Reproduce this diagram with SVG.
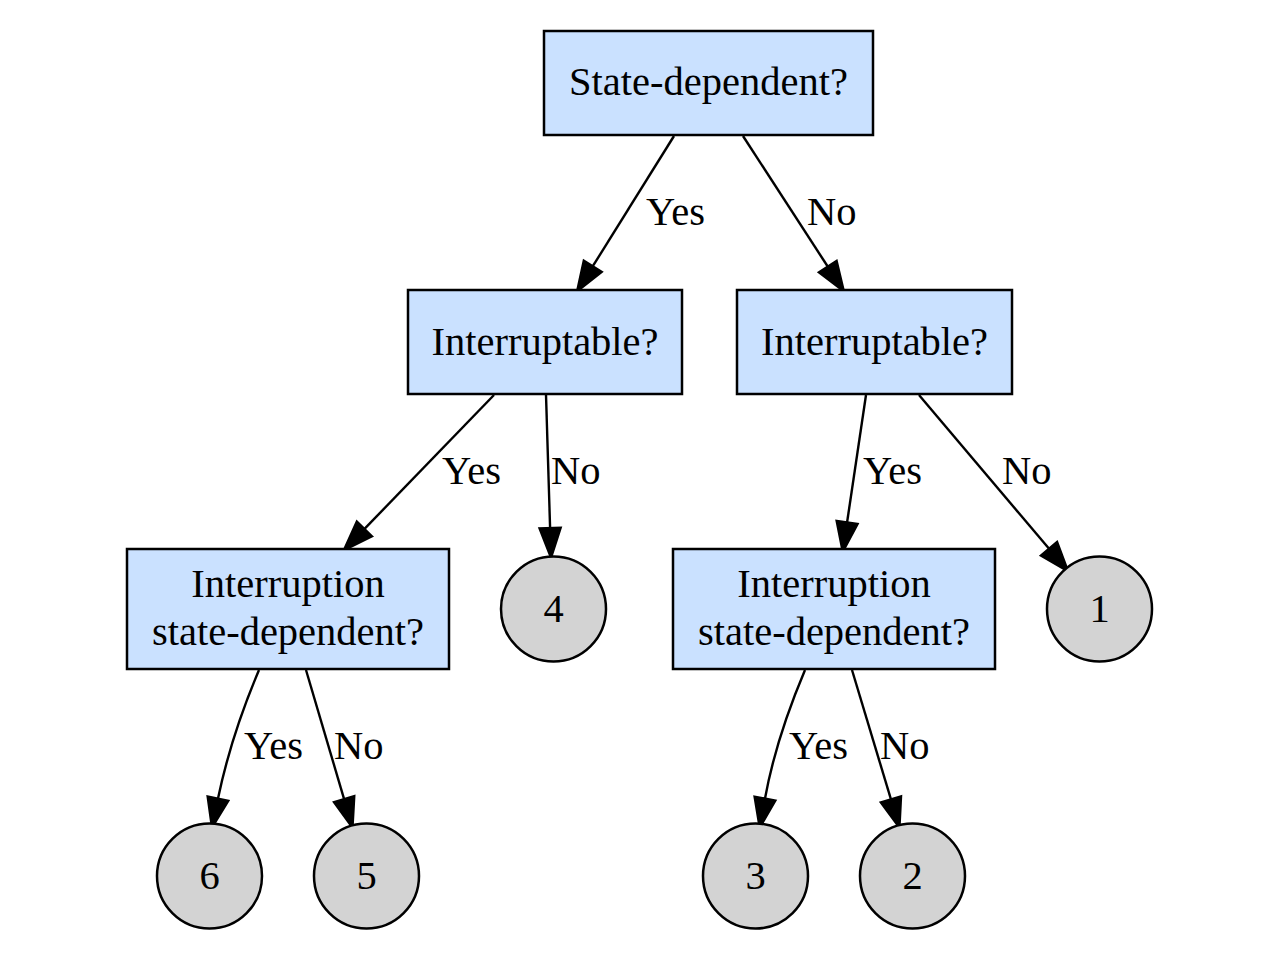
<svg xmlns="http://www.w3.org/2000/svg" width="1278" height="958" viewBox="0 0 1278 958">
<defs>
<style>
.box{fill:#cae1ff;stroke:#000;stroke-width:2.5}
.leaf{fill:#d3d3d3;stroke:#000;stroke-width:2.5}
.t{font-family:"Liberation Serif","Times New Roman",serif;font-size:40.5px;fill:#000;text-anchor:middle}
.lbl{font-family:"Liberation Serif","Times New Roman",serif;font-size:40.5px;fill:#000}
.e{fill:none;stroke:#000;stroke-width:2.4;marker-end:url(#arr)}
</style>
<marker id="arr" markerUnits="userSpaceOnUse" markerWidth="30" markerHeight="22" viewBox="0 0 28 20" refX="0" refY="10" orient="auto" overflow="visible">
<path d="M0,0 L28,10 L0,20 Z" fill="#000" stroke="#000" stroke-width="2"/>
</marker>
</defs>
<rect width="1278" height="958" fill="#fff"/>
<g id="connectors">
<path class="e" d="M674,136 L592.8,266.2"/>
<path class="e" d="M743,136 L827.7,266.5"/>
<path class="e" d="M494,395 L364.5,528.9"/>
<path class="e" d="M546,395 L550.1,528"/>
<path class="e" d="M866,395 L847.1,522.3"/>
<path class="e" d="M919,395 L1048.9,548.6"/>
<path class="e" d="M259,670 C240,715 226,760 218,798.5"/>
<path class="e" d="M306,670 L344.1,799.1"/>
<path class="e" d="M805,670 C786,715 772,760 765,798.5"/>
<path class="e" d="M852,670 L890.9,799.2"/>
<text class="lbl" x="646" y="225">Yes</text>
<text class="lbl" x="807" y="225">No</text>
<text class="lbl" x="442" y="484">Yes</text>
<text class="lbl" x="551" y="484">No</text>
<text class="lbl" x="863" y="484">Yes</text>
<text class="lbl" x="1002" y="484">No</text>
<text class="lbl" x="244" y="759">Yes</text>
<text class="lbl" x="334" y="759">No</text>
<text class="lbl" x="789" y="759">Yes</text>
<text class="lbl" x="880" y="759">No</text>
</g>
<g id="root">
<rect class="box" x="544" y="31" width="329" height="104"/>
<text class="t" x="708.5" y="95">State-dependent?</text>
</g>
<g id="interruptable_yes">
<rect class="box" x="408" y="290" width="274" height="104"/>
<text class="t" x="545" y="355">Interruptable?</text>
</g>
<g id="interruptable_no">
<rect class="box" x="737" y="290" width="275" height="104"/>
<text class="t" x="874.5" y="355">Interruptable?</text>
</g>
<g id="interruption_left">
<rect class="box" x="127" y="549" width="322" height="120"/>
<text class="t" x="288" y="597">Interruption</text>
<text class="t" x="288" y="645">state-dependent?</text>
</g>
<g id="interruption_right">
<rect class="box" x="673" y="549" width="322" height="120"/>
<text class="t" x="834" y="597">Interruption</text>
<text class="t" x="834" y="645">state-dependent?</text>
</g>
<g id="leaf4">
<circle class="leaf" cx="553.5" cy="609" r="52.5"/>
<text class="t" x="553.5" y="622">4</text>
</g>
<g id="leaf1">
<circle class="leaf" cx="1099.5" cy="609" r="52.5"/>
<text class="t" x="1099.5" y="622">1</text>
</g>
<g id="leaf6">
<circle class="leaf" cx="209.5" cy="876" r="52.5"/>
<text class="t" x="209.5" y="889">6</text>
</g>
<g id="leaf5">
<circle class="leaf" cx="366.5" cy="876" r="52.5"/>
<text class="t" x="366.5" y="889">5</text>
</g>
<g id="leaf3">
<circle class="leaf" cx="755.5" cy="876" r="52.5"/>
<text class="t" x="755.5" y="889">3</text>
</g>
<g id="leaf2">
<circle class="leaf" cx="912.5" cy="876" r="52.5"/>
<text class="t" x="912.5" y="889">2</text>
</g>
</svg>
